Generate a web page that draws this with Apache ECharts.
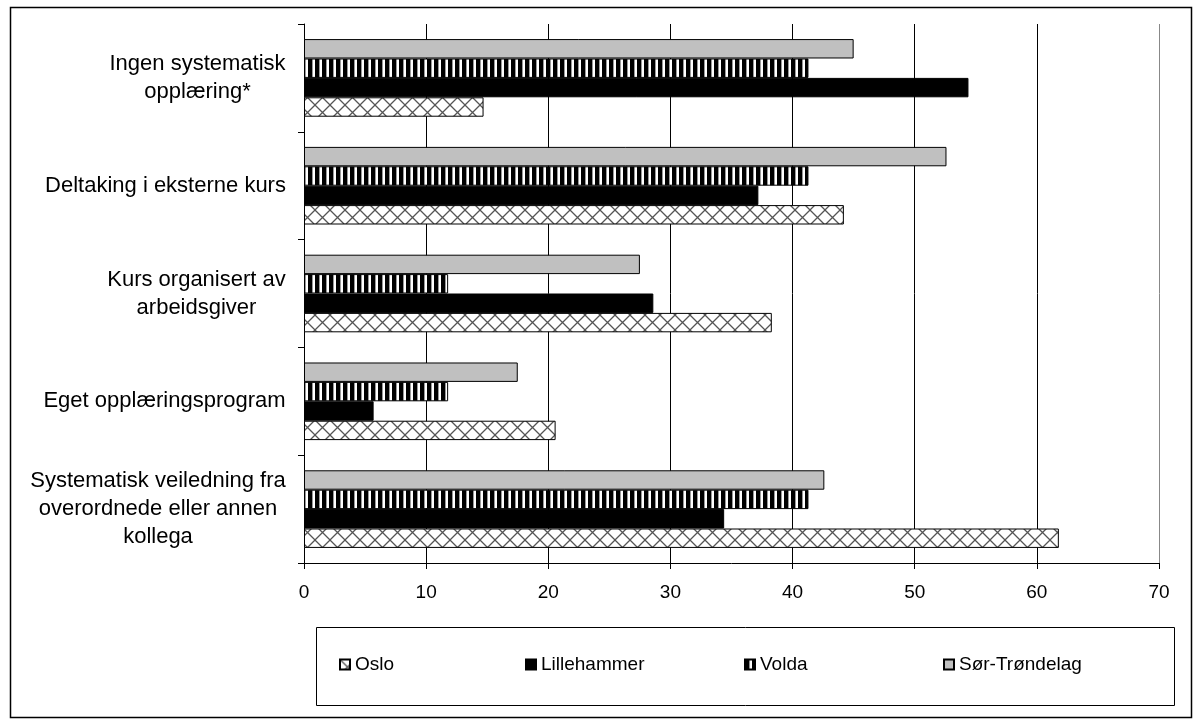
<!DOCTYPE html>
<html><head><meta charset="utf-8">
<script src="https://cdn.jsdelivr.net/npm/echarts@6/dist/echarts.min.js"></script>
<style>html,body{margin:0;padding:0;background:#fff}#c{width:1194px;height:720px}</style>
</head><body><div id="c"></div>
<script>
// ---- data ----
const categories = [
  'Ingen systematisk\nopplæring*',
  'Deltaking i eksterne kurs',
  'Kurs organisert av\narbeidsgiver',
  'Eget opplæringsprogram',
  'Systematisk veiledning fra\noverordnede eller annen\nkollega'
];
const seriesNames = ['Oslo', 'Lillehammer', 'Volda', 'Sør-Trøndelag'];
const oslo = [14.7, 44.2, 38.3, 20.6, 61.8];
const lillehammer = [54.4, 37.2, 28.6, 5.7, 34.4];
const volda = [41.3, 41.3, 11.8, 11.8, 41.3];
const sorTrondelag = [45.0, 52.6, 27.5, 17.5, 42.6];
const xMin = 0, xMax = 70, xStep = 10;

// ---- styles ----
const FONT = 'Liberation Sans';
const labelSize = 22;
const tickSize = 19;

function crossPattern() {
  const s = 15, c = document.createElement('canvas');
  c.width = s; c.height = s;
  const g = c.getContext('2d');
  g.fillStyle = '#fff'; g.fillRect(0, 0, s, s);
  g.strokeStyle = '#555'; g.lineWidth = 1.3;
  g.beginPath();
  g.moveTo(-2, -2); g.lineTo(s + 2, s + 2);
  g.moveTo(s + 2, -2); g.lineTo(-2, s + 2);
  g.stroke();
  return c;
}
function stripePattern() {
  const w = 7, h = 4, c = document.createElement('canvas');
  c.width = w; c.height = h;
  const g = c.getContext('2d');
  g.fillStyle = '#000'; g.fillRect(0, 0, w, h);
  g.fillStyle = '#999'; g.fillRect(4, 0, 1, h);
  g.fillStyle = '#fff'; g.fillRect(5, 0, 2, h);
  return c;
}
const fills = [
  { image: crossPattern(), repeat: 'repeat' },
  '#000000',
  { image: stripePattern(), repeat: 'repeat' },
  '#C0C0C0'
];
const valueLists = [oslo, lillehammer, volda, sorTrondelag];

const mctx = document.createElement('canvas').getContext('2d');
function textWidth(s) { mctx.font = labelSize + 'px "' + FONT + '"'; return Math.ceil(mctx.measureText(s).width); }
const rich = {};
categories.forEach((c, i) => {
  const w = Math.max(...c.split('\n').map(textWidth));
  rich['l' + i] = { width: w, align: 'center', fontSize: labelSize, fontFamily: FONT, lineHeight: 28, color: '#000' };
});

const legendLefts = [339, 525, 744, 943];

// series drawn top-to-bottom within a band: Sør-Trøndelag, Volda, Lillehammer, Oslo
const drawOrder = [3, 2, 1, 0];

const chart = echarts.init(document.getElementById('c'), null, { renderer: 'canvas' });
chart.setOption({
  animation: false,
  backgroundColor: '#fff',
  grid: { left: 304, right: 35, top: 24, bottom: 157, containLabel: false },
  xAxis: {
    type: 'value', min: xMin, max: xMax, interval: xStep,
    axisLine: { show: true, lineStyle: { color: '#000', width: 1 } },
    axisTick: { show: true, length: 6, lineStyle: { color: '#000' } },
    axisLabel: { fontFamily: FONT, fontSize: tickSize, color: '#000', margin: 20 },
    splitLine: { show: true, lineStyle: { color: ['#000', '#000', '#000', '#000', '#000', '#000', '#000', '#888'], width: 1 } }
  },
  yAxis: {
    type: 'category', data: categories, inverse: true,
    axisLine: { show: true, lineStyle: { color: '#000', width: 1 } },
    axisTick: { show: true, length: 6, lineStyle: { color: '#000' } },
    axisLabel: {
      align: 'right', margin: 18,
      formatter: (v, i) => v.split('\n').map(l => '{l' + i + '|' + l + '}').join('\n'),
      rich: rich
    }
  },
  legend: seriesNames.map((n, i) => ({
    data: [{ name: n, icon: 'rect' }], left: legendLefts[i], top: 655, padding: 0,
    itemWidth: 10, itemHeight: 10, itemGap: 0, selectedMode: false,
    textStyle: { fontFamily: FONT, fontSize: tickSize, color: '#000' }
  })),
  series: drawOrder.map(i => ({
    name: seriesNames[i], type: 'bar', data: valueLists[i],
    barGap: '0%', barCategoryGap: '28%',
    itemStyle: { color: fills[i], borderColor: '#000', borderWidth: 1 },
    emphasis: { disabled: true }
  })),
  graphic: [
    { type: 'rect', silent: true, shape: { x: 10.5, y: 7.5, width: 1181, height: 710 }, style: { fill: null, stroke: '#000', lineWidth: 1.5 }, z: -1 },
    { type: 'rect', silent: true, shape: { x: 316.5, y: 627.5, width: 858, height: 78 }, style: { fill: null, stroke: '#000', lineWidth: 1 }, z: -1 }
  ]
});
</script>
</body></html>
